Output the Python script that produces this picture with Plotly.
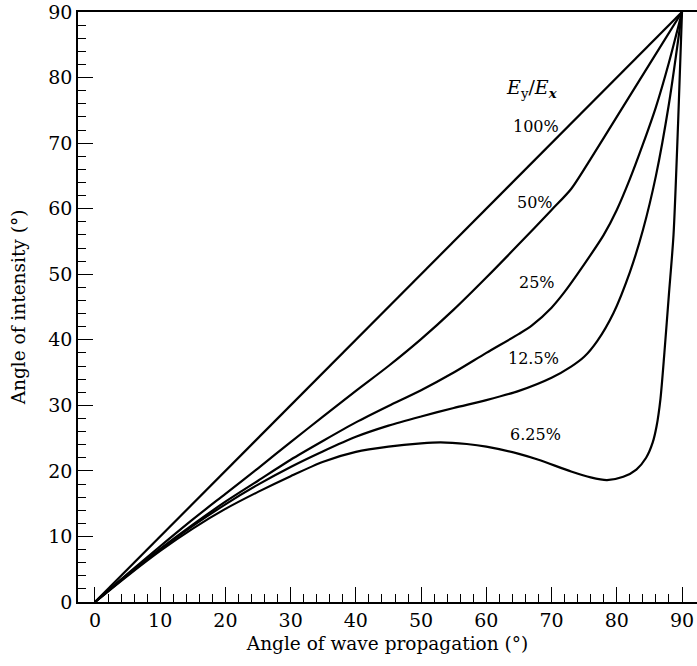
import plotly.graph_objects as go

# Angle of wave propagation (deg) vs angle of intensity (deg) for several Ey/Ex ratios
x_100 = [0, 90]
y_100 = [0, 90]

x_50 = [0, 5, 10, 15, 20, 25, 30, 35, 40, 45, 50, 55, 60, 65, 70, 73, 76, 80, 85, 90]
y_50 = [0, 4.3, 8.5, 12.6, 16.5, 20.4, 24.4, 28.3, 32.2, 36.0, 40.1, 44.6, 49.5, 54.6, 59.8, 63.0, 67.6, 74.0, 82.0, 90]

x_25 = [0, 5, 10, 15, 20, 25, 30, 35, 40, 45, 50, 55, 60, 65, 67, 70, 72, 75, 78, 80, 82, 84, 86, 88, 90]
y_25 = [0, 4.2, 8.1, 11.8, 15.3, 18.5, 21.7, 24.6, 27.4, 29.9, 32.3, 35.0, 38.0, 40.9, 42.2, 44.9, 47.3, 51.5, 56.0, 59.8, 64.5, 69.8, 75.5, 82.3, 90]

x_12 = [0, 5, 10, 15, 20, 25, 30, 35, 40, 45, 50, 55, 60, 65, 70, 73, 75, 77, 79.5, 82, 84, 86, 88, 90]
y_12 = [0, 4.1, 8.0, 11.6, 14.9, 17.9, 20.6, 23.0, 25.2, 26.9, 28.3, 29.6, 30.8, 32.2, 34.2, 35.9, 37.4, 39.8, 44.1, 50.3, 56.7, 65.0, 76.0, 90]

x_6 = [0, 5, 10, 15, 20, 25, 30, 35, 40, 45, 50, 53, 57, 60, 65, 68, 73, 76, 78.5, 81, 83, 84.5, 85.5, 86.1, 86.7, 87.3, 88, 88.7, 89.4, 90]
y_6 = [0, 4.0, 7.8, 11.2, 14.2, 16.8, 19.2, 21.4, 22.9, 23.7, 24.2, 24.35, 24.1, 23.7, 22.6, 21.7, 19.9, 19.0, 18.6, 19.1, 20.2, 22.0, 24.3, 26.8, 31.0, 38.0, 47.0, 56.0, 73.0, 90]

labels = ["100%", "50%", "25%", "12.5%", "6.25%"]
label_x = [67.6, 67.5, 67.8, 67.3, 67.5]
label_y = [72.5, 60.9, 48.8, 37.2, 25.5]

tick_vals = [0, 10, 20, 30, 40, 50, 60, 70, 80, 90]
minor_vals = [v for v in range(2, 90, 2) if v % 10]

FONT = "DejaVu Serif"

fig = go.Figure()
for xs, ys in [(x_100, y_100), (x_50, y_50), (x_25, y_25), (x_12, y_12), (x_6, y_6)]:
    fig.add_trace(go.Scatter(x=xs, y=ys, mode="lines",
                             line=dict(color="black", width=2.2, shape="spline", smoothing=0.75),
                             showlegend=False, hoverinfo="skip"))

for t, lx, ly in zip(labels, label_x, label_y):
    fig.add_annotation(x=lx, y=ly, text=t, showarrow=False,
                       font=dict(family=FONT, size=16, color="black"))

fig.add_annotation(x=67.0, y=78.4,
                   text="<i>E</i><sub>y</sub>/<i>E</i><sub><b><i>x</i></b></sub>",
                   showarrow=False, font=dict(family=FONT, size=19, color="black"))

axis_common = dict(
    showgrid=False, zeroline=False, showline=True, linecolor="black", linewidth=1.5,
    ticks="inside", ticklen=15, tickwidth=1.3, tickcolor="black",
    tickvals=tick_vals,
    tickfont=dict(family=FONT, size=19, color="black"),
    minor=dict(ticks="inside", ticklen=8, tickwidth=1.3, tickcolor="black", tickvals=minor_vals),
)

fig.update_xaxes(range=[-2.6, 92.3], mirror=True,
                 title=dict(text="Angle of wave propagation (°)", font=dict(family=FONT, size=18.5, color="black"), standoff=8),
                 **axis_common)
fig.update_yaxes(range=[0, 90],
                 title=dict(text="Angle of intensity (°)", font=dict(family=FONT, size=18.5, color="black"), standoff=18),
                 **axis_common)

fig.update_layout(width=697, height=666, margin=dict(l=78, r=0, t=12, b=64),
                  plot_bgcolor="white", paper_bgcolor="white",
                  font=dict(family=FONT, color="black"))

fig.write_html("out.html")
